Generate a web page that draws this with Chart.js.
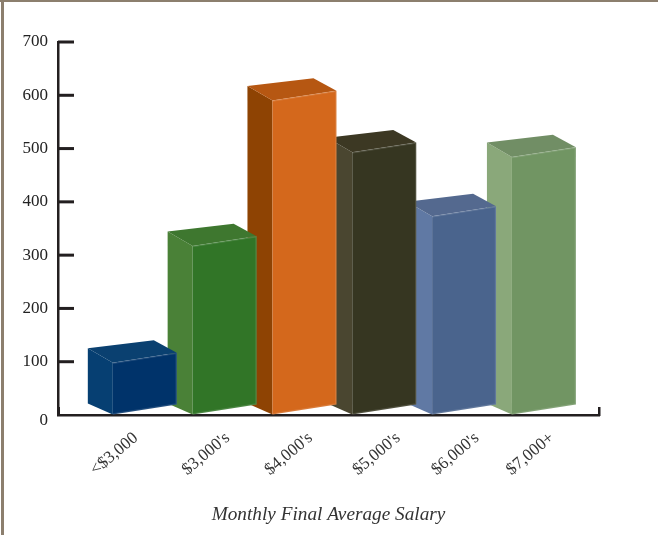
<!DOCTYPE html>
<html lang="en">
<head>
    <meta charset="UTF-8">
    <title>Monthly Final Average Salary</title>
    <style>
        * { margin: 0; padding: 0; box-sizing: border-box; }
        body { background: #fff; width: 658px; height: 535px; overflow: hidden; position: relative; }
        canvas { display: block; }
        /* Frame left over from the page the chart sat on */
        .frame-top { position: absolute; left: 0; top: 0; width: 658px; height: 2px; background: #8c7f6e; }
        .frame-left { position: absolute; left: 1px; top: 0; width: 3px; height: 535px; background: #8c7f6e; }
    </style>
    <script src="https://cdn.jsdelivr.net/npm/chart.js"></script>
</head>
<body>
    <canvas id="salaryChart" width="658" height="535"></canvas>
    <div class="frame-top"></div>
    <div class="frame-left"></div>

    <script>
        const categories = ['<$3,000', "$3,000's", "$4,000's", "$5,000's", "$6,000's", '$7,000+'];
        const counts = [98, 317, 590, 493, 373, 484];
        const yTicks = [0, 100, 200, 300, 400, 500, 600, 700];

        const frontColors = ['#00336a', '#317527', '#d4681c', '#363621', '#4a648d', '#719563'];
        const sideColors = ['#063f72', '#4a8137', '#8e4303', '#4a4630', '#6079a4', '#8aa87a'];
        const topColors = ['#0a4070', '#3e772f', '#b65712', '#3c3823', '#54698f', '#718e65'];

        // Horizontal nudge of each rotated label from its bar, in pixels
        const labelNudge = [-9, 3, 6, 14, 13, 8];

        const inkColor = '#231f20';
        const serif = '"Liberation Serif", serif';

        function poly(ctx, points, fill) {
            ctx.beginPath();
            points.forEach((p, i) => (i ? ctx.lineTo(p[0], p[1]) : ctx.moveTo(p[0], p[1])));
            ctx.closePath();
            ctx.fillStyle = fill;
            ctx.fill();
        }

        // Draws each bar as a box, from the bar element the library laid out
        const boxBars = {
            id: 'boxBars',
            beforeDatasetDraw(chart, args) {
                const ctx = chart.ctx;
                const bars = args.meta.data;
                ctx.save();
                // right to left, nearer bars cover the side of the next one
                for (let i = bars.length - 1; i >= 0; i--) {
                    const bar = bars[i];
                    const left = bar.x - bar.width / 2;
                    const right = bar.x + bar.width / 2;
                    const top = bar.y;
                    const base = bar.base - 0.5;
                    const rise = bar.width * 0.155;

                    const frontTL = [left, top];
                    const frontTR = [right, top - rise];
                    const frontBR = [right, base - rise];
                    const frontBL = [left, base];
                    const backTL = [left - 25, top - 14.5];
                    const backTR = [right - 23, top - rise - 12.5];
                    const backBL = [left - 25, base - 11];

                    poly(ctx, [backTL, frontTL, frontBL, backBL], sideColors[i]);
                    poly(ctx, [backTL, backTR, frontTR, frontTL], topColors[i]);
                    poly(ctx, [frontTL, frontTR, frontBR, frontBL], frontColors[i]);

                    // pale rim on the front face
                    ctx.beginPath();
                    ctx.moveTo(frontTL[0], frontTL[1] + 0.5);
                    ctx.lineTo(frontTR[0] - 0.5, frontTR[1] + 0.5);
                    ctx.lineTo(frontBR[0] - 0.5, frontBR[1] - 0.5);
                    ctx.lineTo(frontBL[0], frontBL[1] - 0.5);
                    ctx.strokeStyle = 'rgba(255,255,255,0.13)';
                    ctx.lineWidth = 1.5;
                    ctx.stroke();
                }
                ctx.restore();
                return false;
            }
        };

        // Tick marks point into the plot, the library only draws them outwards
        const innerTicks = {
            id: 'innerTicks',
            afterDraw(chart) {
                const ctx = chart.ctx;
                const y = chart.scales.y;
                const x = chart.scales.x;
                ctx.save();
                ctx.fillStyle = inkColor;
                yTicks.forEach(value => {
                    if (value > 0) {
                        ctx.fillRect(x.left, y.getPixelForValue(value) - 1.5, 16, 3);
                    }
                });
                ctx.fillRect(x.left - 1, y.bottom - 8, 3, 9);
                ctx.fillRect(x.right - 1, y.bottom - 8, 2.5, 9);
                ctx.restore();
            }
        };

        new Chart(document.getElementById('salaryChart'), {
            type: 'bar',
            data: {
                datasets: [{
                    data: counts.map((value, i) => ({ x: i, y: value })),
                    backgroundColor: frontColors,
                    barPercentage: 0.95,
                    categoryPercentage: 0.9
                }]
            },
            plugins: [boxBars, innerTicks],
            options: {
                responsive: false,
                animation: false,
                layout: { padding: { top: 42, right: 59, left: 0, bottom: 0 } },
                plugins: { legend: { display: false }, tooltip: { enabled: false } },
                scales: {
                    x: {
                        type: 'linear',
                        offset: false,
                        min: -1.0875,
                        max: 5.69,
                        afterFit(scale) { scale.height = 120; },
                        afterBuildTicks(scale) {
                            scale.ticks = categories.map((name, i) => ({ value: i + labelNudge[i] / 80 }));
                        },
                        grid: { display: false, drawTicks: false },
                        border: { display: true, color: inkColor, width: 2.5 },
                        ticks: {
                            autoSkip: false,
                            minRotation: 40,
                            maxRotation: 40,
                            padding: 13,
                            color: '#333333',
                            font: { family: serif, size: 17 },
                            callback: (value, index) => categories[index]
                        },
                        title: {
                            display: true,
                            text: 'Monthly Final Average Salary',
                            color: '#333333',
                            font: { family: serif, size: 19.25, style: 'italic' },
                            padding: { top: 0, bottom: 9 }
                        }
                    },
                    y: {
                        min: 0,
                        max: 700,
                        afterFit(scale) { scale.width = 58; },
                        afterBuildTicks(scale) {
                            scale.ticks = yTicks.map(value => ({ value }));
                        },
                        grid: { display: false, drawTicks: false },
                        border: { display: true, color: inkColor, width: 2.5 },
                        ticks: {
                            padding: 10,
                            color: '#222222',
                            font: ctx => ({ family: serif, size: 17, lineHeight: ctx.tick && ctx.tick.value === 0 ? 0.7 : 1.2 }),
                            // the zero sits a little under the axis line
                            callback: value => (value === 0 ? ['', '0'] : String(value))
                        }
                    }
                }
            }
        });
    </script>
</body>
</html>
